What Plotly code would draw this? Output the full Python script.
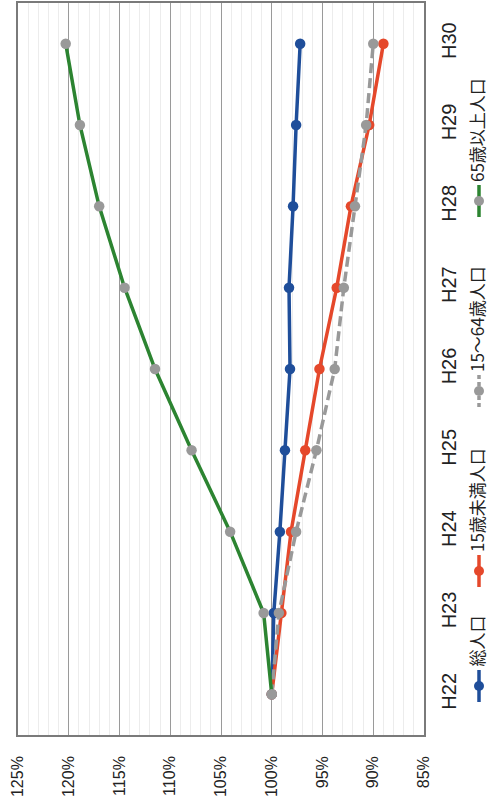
import plotly.graph_objects as go

years = ["H22", "H23", "H24", "H25", "H26", "H27", "H28", "H29", "H30"]
total = [100.0, 99.8, 99.2, 98.7, 98.2, 98.3, 97.9, 97.6, 97.2]
under15 = [100.0, 99.05, 98.1, 96.7, 95.3, 93.6, 92.2, 90.4, 89.0]
age15_64 = [100.0, 99.3, 97.6, 95.6, 93.8, 92.9, 91.8, 90.7, 90.0]
over65 = [100.0, 100.8, 104.1, 107.9, 111.5, 114.5, 117.0, 118.9, 120.3]
pct_ticks = [125, 120, 115, 110, 105, 100, 95, 90, 85]
pct_labels = ["125%", "120%", "115%", "110%", "105%", "100%", "95%", "90%", "85%"]
names = ["総人口", "15歳未満人口", "15～64歳人口", "65歳以上人口"]

BLUE = "#1f4e9a"
RED = "#e5482b"
GREY = "#999999"
GREEN = "#2c8431"

series = [
    (names[0], total, BLUE, BLUE, "solid"),
    (names[1], under15, RED, RED, "solid"),
    (names[2], age15_64, GREY, GREY, "10px,5px"),
    (names[3], over65, GREEN, GREY, "solid"),
]

fig = go.Figure()
for name, vals, lc, mc, dash in series:
    fig.add_trace(go.Scatter(
        x=vals, y=years, mode="lines+markers", name=name,
        line=dict(color=lc, width=3.5, dash=dash),
        marker=dict(color=mc, size=10.5),
        cliponaxis=False, showlegend=False,
    ))

L, R, T, B = 18, 65, 3, 64
W, H = 489, 799
PW, PH = W - L - R, H - T - B


def px_x(x):
    return (x - L) / PW


def px_y(y):
    return (H - B - y) / PH


# custom rotated legend (reads bottom-to-top)
legend_items = [
    (names[0], BLUE, BLUE, "solid", 686),
    (names[1], RED, RED, "solid", 571),
    (names[2], GREY, GREY, "dash", 391),
    (names[3], GREEN, GREY, "solid", 201),
]
lx = 479
for name, lc, mc, dash, cy in legend_items:
    fig.add_shape(type="line", xref="paper", yref="paper",
                  x0=px_x(lx), x1=px_x(lx), y0=px_y(cy + 16), y1=px_y(cy - 16),
                  line=dict(color=lc, width=3.5, dash="4px,3px" if dash == "dash" else "solid"))
    fig.add_shape(type="circle", xref="paper", yref="paper",
                  xsizemode="pixel", ysizemode="pixel",
                  xanchor=px_x(lx), yanchor=px_y(cy),
                  x0=-5, x1=5, y0=-5, y1=5,
                  fillcolor=mc, line=dict(color=mc, width=0))
    fig.add_annotation(text=name, xref="paper", yref="paper",
                       x=px_x(lx - 3), y=px_y(cy - 18), xanchor="center", yanchor="bottom",
                       textangle=-90, showarrow=False, borderpad=0,
                       font=dict(family="Noto Sans CJK JP", size=17, color="#222"))

fig.update_xaxes(
    range=[125, 85], tickmode="array", tickvals=pct_ticks, ticktext=pct_labels,
    tickangle=-90, ticks="", ticklabelstandoff=13, automargin=False,
    tickfont=dict(family="Liberation Sans, Arial", size=16, color="#222"),
    showgrid=True, gridcolor="#9a9a9a", gridwidth=1,
    minor=dict(dtick=1, showgrid=True, gridcolor="#ececec", gridwidth=1),
    showline=True, linecolor="#7a7a7a", linewidth=1.5, mirror=True, zeroline=False,
)
fig.update_yaxes(
    type="category", categoryorder="array", categoryarray=years, range=[-0.5, 8.5],
    side="right", tickangle=-90, ticks="", ticklabelstandoff=6, automargin=False,
    tickfont=dict(family="Liberation Sans, Arial", size=20, color="#222"),
    showgrid=False, showline=True, linecolor="#7a7a7a", linewidth=1.5, mirror=True,
    zeroline=False,
)
fig.update_layout(
    width=W, height=H, margin=dict(l=L, r=R, t=T, b=B, autoexpand=False),
    paper_bgcolor="white", plot_bgcolor="white", showlegend=False,
)
fig.write_html("out.html")
